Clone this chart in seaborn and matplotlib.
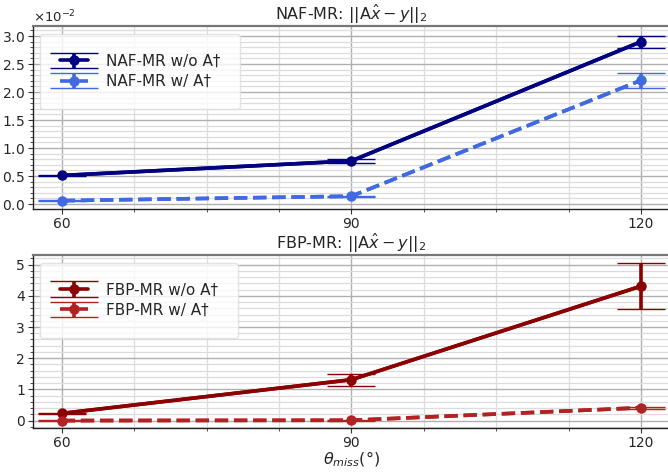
import numpy as np
import pandas as pd
import seaborn as sns
import matplotlib.pyplot as plt
from matplotlib.ticker import AutoMinorLocator, FixedLocator, MultipleLocator

sns.set_style("whitegrid")
plt.rcParams['font.family'] = ['DejaVu Sans']
plt.rcParams['xtick.bottom'] = True
plt.rcParams['ytick.left'] = True
plt.rcParams['xtick.minor.visible'] = True
plt.rcParams['ytick.minor.visible'] = True

# data
theta = [60, 90, 120]
naf_wo = [0.0051, 0.0077, 0.0290]
naf_wo_err = [0.0001, 0.0003, 0.0011]
naf_w = [0.0006, 0.0014, 0.0221]
naf_w_err = [0.0001, 0.0001, 0.0013]
fbp_wo = [0.23, 1.31, 4.31]
fbp_wo_err = [0.02, 0.19, 0.74]
fbp_w = [0.0, 0.01, 0.41]
fbp_w_err = [0.01, 0.01, 0.04]

fig = plt.figure(figsize=(6.68, 4.73), dpi=100)
ax1 = fig.add_axes([0.049, 0.558, 0.954, 0.387])
ax2 = fig.add_axes([0.049, 0.095, 0.954, 0.366])

panels = [
    (ax1, 'NAF-MR', naf_wo, naf_wo_err, naf_w, naf_w_err, '#000080', '#4169E1', (-0.0009, 0.0318), 0.005),
    (ax2, 'FBP-MR', fbp_wo, fbp_wo_err, fbp_w, fbp_w_err, '#8B0000', '#B22222', (-0.24, 5.31), 1),
]

for ax, name, wo, wo_err, w, w_err, c1, c2, ylim, step in panels:
    df = pd.DataFrame({'theta': theta * 2,
                       'value': wo + w,
                       'method': [f'{name} w/o A†'] * 3 + [f'{name} w/ A†'] * 3})
    sns.lineplot(data=df, x='theta', y='value', hue='method', style='method',
                 palette=[c1, c2], dashes=['', (3.7, 1.6)], lw=2.6, ax=ax,
                 legend=False)
    ax.errorbar(theta, wo, yerr=wo_err, color=c1, lw=2.6, marker='o', ms=6.5,
                elinewidth=2.6, capsize=17, capthick=1, label=f'{name} w/o A†')
    ax.errorbar(theta, w, yerr=w_err, color=c2, lw=2.6, ls='--', marker='o', ms=6.5,
                elinewidth=2.6, capsize=17, capthick=1, label=f'{name} w/ A†')
    ax.set_xlim(57, 123)
    ax.set_ylim(*ylim)
    ax.xaxis.set_major_locator(FixedLocator(theta))
    ax.xaxis.set_minor_locator(AutoMinorLocator(4))
    ax.yaxis.set_major_locator(MultipleLocator(step))
    ax.yaxis.set_minor_locator(AutoMinorLocator(5))
    ax.grid(True, which='major', color='#b0b0b0', lw=1)
    ax.grid(True, which='minor', color='#dcdcdc', lw=0.9)
    ax.set_title(name + r': $||\mathrm{A}\hat{x} - y||_2$', fontsize=11.5, pad=3)
    ax.set_xlabel('')
    ax.set_ylabel('')
    ax.tick_params(labelsize=10, length=3.5, width=0.8, color='#333333', pad=2)
    ax.tick_params(which='minor', length=2, width=0.6, color='#333333')
    for s in ['left', 'bottom']:
        ax.spines[s].set_color('#222222')
        ax.spines[s].set_linewidth(1.0)
    ax.spines['top'].set_color('#777777')
    ax.spines['top'].set_linewidth(1.6)
    ax.legend(loc='upper left', fontsize=11, borderpad=1.3, labelspacing=0.35,
              handlelength=1.8, handletextpad=1.2, framealpha=0.8,
              edgecolor='#dddddd', bbox_to_anchor=(0.0, 1.0))

ax1.ticklabel_format(axis='y', style='sci', scilimits=(0, 0), useMathText=True)
ax1.yaxis.get_offset_text().set_fontsize(9.5)
ax2.set_xlabel(r'$\theta_{miss} (°)$', fontsize=11.5)
ax2.xaxis.set_label_coords(0.5, -0.127)

fig.savefig('out.png', dpi=100)
